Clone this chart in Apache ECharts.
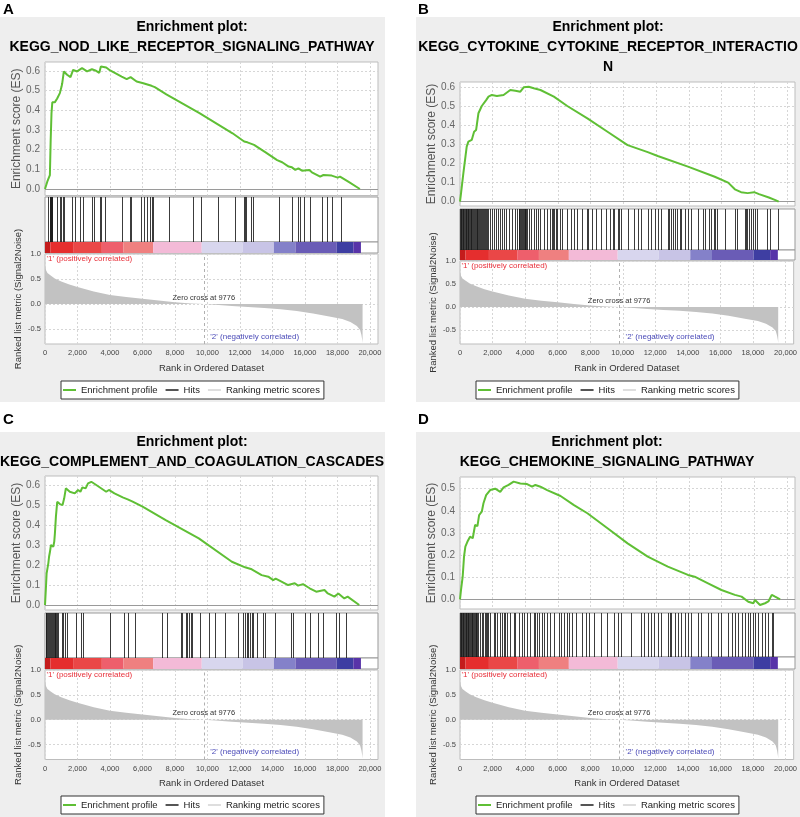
<!DOCTYPE html>
<html><head><meta charset="utf-8">
<script src="https://cdn.jsdelivr.net/npm/echarts@6/dist/echarts.min.js"></script>
<style>html,body{margin:0;padding:0;background:#fff}#c{width:800px;height:817px}</style>
</head><body><div id="c"></div>
<script>
// ---------------- DATA ----------------
const xTicks = [0,2000,4000,6000,8000,10000,12000,14000,16000,18000,20000];
const rankedTicks = [-0.5,0,0.5,1.0];
const esTicksA = [0,0.1,0.2,0.3,0.4,0.5,0.6];
const esTicksB = [0,0.1,0.2,0.3,0.4,0.5,0.6];
const esTicksC = [0,0.1,0.2,0.3,0.4,0.5,0.6];
const esTicksD = [0,0.1,0.2,0.3,0.4,0.5];
const zeroCross = 9776;

const titleA = 'Enrichment plot:\nKEGG_NOD_LIKE_RECEPTOR_SIGNALING_PATHWAY';
const titleB = 'Enrichment plot:\nKEGG_CYTOKINE_CYTOKINE_RECEPTOR_INTERACTIO\nN';
const titleC = 'Enrichment plot:\nKEGG_COMPLEMENT_AND_COAGULATION_CASCADES';
const titleD = 'Enrichment plot:\nKEGG_CHEMOKINE_SIGNALING_PATHWAY';
const legendNames = ['Enrichment profile','Hits','Ranking metric scores'];

// ranked list metric (same ranked dataset for all four panels)
const rankedMetric = [[0,0.76],[60,0.68],[150,0.62],[350,0.57],[600,0.51],[1000,0.45],[1500,0.39],[2000,0.34],[3000,0.25],[4000,0.18],[5000,0.14],[6000,0.105],[7000,0.07],[8000,0.035],[9000,0.012],[9776,0],[10500,-0.015],[11500,-0.04],[12500,-0.06],[13500,-0.08],[14500,-0.105],[15500,-0.14],[16500,-0.19],[17500,-0.25],[18300,-0.3],[18800,-0.36],[19200,-0.44],[19400,-0.52],[19480,-0.62],[19530,-0.72],[19550,-0.78]];

// colour bar: rank breaks
const colorBarBreaks = [0,340,1770,3500,4830,6660,9650,12160,14090,15420,17960,18980,19450];

const esA = [[0,0],[80,0],[140,0.037],[220,0.03],[300,0.07],[350,0.25],[400,0.385],[450,0.44],[600,0.44],[710,0.435],[750,0.46],[850,0.45],[915,0.487],[1020,0.52],[1060,0.537],[1160,0.597],[1360,0.58],[1570,0.568],[1730,0.605],[1975,0.597],[2280,0.614],[2590,0.597],[2890,0.608],[3100,0.602],[3340,0.59],[3440,0.622],[3770,0.617],[4010,0.602],[4720,0.571],[5030,0.558],[5270,0.568],[5640,0.546],[6050,0.537],[6560,0.524],[6760,0.517],[7470,0.481],[9510,0.385],[11545,0.283],[12260,0.241],[12460,0.237],[12870,0.224],[13580,0.186],[14290,0.147],[14600,0.136],[15000,0.114],[15200,0.11],[15410,0.097],[15600,0.105],[15820,0.093],[16270,0.097],[16430,0.085],[16940,0.063],[17140,0.071],[17650,0.068],[18020,0.058],[18160,0.063],[18670,0.037],[19385,0]];
const esB = [[0,0],[62,0.044],[205,0.149],[410,0.289],[513,0.315],[718,0.324],[862,0.367],[985,0.376],[1128,0.464],[1333,0.502],[1600,0.533],[1744,0.551],[1949,0.56],[2256,0.555],[2667,0.56],[3077,0.586],[3385,0.582],[3692,0.577],[3897,0.6],[4205,0.603],[4513,0.595],[4923,0.586],[5744,0.551],[6564,0.502],[7795,0.437],[9026,0.367],[10256,0.297],[11487,0.26],[12100,0.24],[13950,0.184],[15590,0.131],[16410,0.1],[16820,0.065],[17200,0.05],[17600,0.045],[18000,0.05],[18300,0.04],[18900,0.022],[19300,0.008],[19500,0]];
const esC = [[0,0],[50,0.075],[100,0.159],[204,0.209],[250,0.242],[305,0.267],[367,0.301],[509,0.292],[570,0.318],[610,0.359],[672,0.443],[753,0.518],[916,0.506],[1079,0.501],[1181,0.535],[1283,0.585],[1527,0.568],[1833,0.56],[2036,0.577],[2180,0.568],[2301,0.59],[2500,0.585],[2647,0.61],[2851,0.618],[3156,0.602],[3767,0.568],[3930,0.577],[4276,0.56],[4785,0.54],[5091,0.53],[5396,0.518],[6007,0.493],[7432,0.426],[9468,0.334],[11504,0.217],[12319,0.189],[12726,0.179],[13337,0.15],[13744,0.142],[14050,0.125],[14200,0.132],[14559,0.117],[14966,0.1],[15374,0.109],[15577,0.097],[15883,0.105],[16290,0.084],[16697,0.067],[17205,0.075],[17409,0.058],[17816,0.042],[18060,0.058],[18427,0.033],[18630,0.042],[19343,0]];
const esD = [[0,0],[62,0.042],[164,0.102],[246,0.193],[328,0.238],[451,0.26],[615,0.283],[780,0.276],[923,0.336],[1067,0.331],[1169,0.381],[1333,0.396],[1436,0.434],[1600,0.471],[1846,0.494],[2154,0.5],[2462,0.486],[2667,0.506],[2974,0.517],[3282,0.532],[3692,0.524],[4103,0.521],[4410,0.509],[4615,0.517],[4923,0.509],[5333,0.494],[6154,0.467],[6974,0.426],[7795,0.389],[9026,0.321],[10256,0.253],[11487,0.193],[12718,0.148],[13949,0.11],[14359,0.102],[15179,0.072],[15999,0.042],[16820,0.02],[17231,0.012],[17641,-0.011],[17949,-0.018],[18051,-0.003],[18359,-0.026],[18667,-0.018],[18872,-0.01],[19077,0.02],[19282,0.012],[19590,0]];

const hitsA = [183,305,330,360,390,420,452,757,916,1002,1100,1200,1674,1833,2138,2321,2895,2993,3402,3464,3665,4728,5235,5296,5889,6090,6255,6457,6561,6659,7616,9102,9615,10629,11700,12258,12319,12401,12706,12808,14396,15211,15577,15679,15964,16330,17043,17348,17653,18223];
const hitsB = [20,60,90,130,170,210,250,300,340,380,430,470,520,560,610,660,700,750,800,850,900,960,1010,1060,1120,1180,1230,1290,1350,1400,1460,1520,1580,1640,1700,1846,1949,2092,2215,2297,2421,2564,2708,2831,2974,3179,3385,3487,3590,3640,3700,3750,3800,3850,3900,3950,4000,4050,4100,4205,4349,4513,4677,4779,4923,5128,5333,5477,5641,5700,5750,5846,5949,6113,6256,6564,6769,6974,7179,7487,7754,7836,8103,8308,8615,8923,9190,9333,9436,9641,9744,9846,10256,10667,10913,11077,11487,11692,11938,12103,12308,12718,12800,12900,13026,13128,13292,13436,13538,13744,13949,14154,14564,14874,15015,15218,15385,15526,15631,15735,16203,16818,16923,17434,17480,17538,17680,17803,17951,18049,18154,18769,18972,19446];
const hitsC = [40,90,140,190,240,300,350,420,480,540,600,640,700,760,815,1018,1120,1220,1324,1934,2240,2342,3971,4887,5091,5559,7228,7533,8348,8410,8654,8760,8860,8960,9061,9570,10080,10487,11097,11911,12217,12319,12421,12523,12625,12726,12828,13032,13439,13541,14152,15170,15272,15984,16290,16798,17104,17918,18121,18528];
const hitsD = [10,50,90,130,170,210,260,300,350,390,430,480,520,570,620,660,710,760,800,850,900,950,1000,1060,1110,1231,1333,1436,1538,1600,1650,1744,1846,2051,2154,2256,2462,2564,2667,2769,2872,3077,3282,3385,3590,3795,3897,4103,4308,4513,4615,4718,4821,5026,5128,5333,5538,5744,6051,6154,6359,6564,6667,6872,7077,7487,7692,7897,8205,8615,9026,9436,9641,9846,10462,11077,11282,11487,11692,11897,12103,12308,12718,12821,12923,13128,13333,13538,13744,13949,14154,14564,14769,15179,15385,15795,16000,16410,16615,16821,17026,17231,17436,17641,17744,17949,18051,18256,18462,18667,18872,19077,19179];

// ---------------- STYLE / LAYOUT ----------------
const BAR_COLORS = ['#c41c1c','#e52e2e','#ea4747','#ee5f6c','#ef8080','#f3bad7','#d8d6ee','#c8c4e6','#8481c9','#6a5cb6','#3e3ea2','#5834a8'];
const FONT = '"Liberation Sans", Arial, sans-serif';
const XMAX = 20500;
const ES_COLOR = '#5fbf35';
const HIT_COLOR = '#1a1a1a';
const GRIDLINE = {show:true, lineStyle:{color:'#d6d6d6', type:[2,2], width:1}};

const panels = [
  {letter:'A', title:titleA, es:esA, esTicks:esTicksA, hits:hitsA, bg:[0,17,385,385], lp:[3,2], cx:192, tTop:17,
   x0:45, x1:378, esY:[62,195.5], esR:[-0.033,0.645], hY:[197,242], bY:[242,253], rY:[254,344], lg:[61,381]},
  {letter:'B', title:titleB, es:esB, esTicks:esTicksB, hits:hitsB, bg:[416,17,384,385], lp:[418,2], cx:608, tTop:17,
   x0:460, x1:795, esY:[82,206], esR:[-0.0225,0.628], hY:[209,250], bY:[250,260], rY:[261,344], lg:[476,381]},
  {letter:'C', title:titleC, es:esC, esTicks:esTicksC, hits:hitsC, bg:[0,432,385,385], lp:[3,412], cx:192, tTop:432,
   x0:45, x1:378, esY:[476,610], esR:[-0.025,0.647], hY:[613,658], bY:[658,669], rY:[670,759.5], lg:[61,796]},
  {letter:'D', title:titleD, es:esD, esTicks:esTicksD, hits:hitsD, bg:[416,432,384,385], lp:[418,412], cx:607, tTop:432,
   x0:460, x1:795, esY:[477,609], esR:[-0.044,0.553], hY:[613,657], bY:[657,669], rY:[670,759.5], lg:[476,796]}
];

const grid = [], xAxis = [], yAxis = [], series = [], legend = [], graphic = [];
const barSegments = colorBarBreaks.slice(0,-1).map((s,i)=>[s, colorBarBreaks[i+1], i]);

function hitsRender(params, api){
  const cs = params.coordSys;
  const x = Math.round(api.coord([api.value(0), 0.5])[0]) + 0.5;
  return {type:'line', shape:{x1:x, y1:cs.y, x2:x, y2:cs.y+cs.height}, style:{stroke:HIT_COLOR, lineWidth:1, opacity:0.85}};
}
function barRender(params, api){
  const p0 = api.coord([api.value(0), 1]);
  const p1 = api.coord([api.value(1), 0]);
  return {type:'rect', shape:{x:p0[0], y:p0[1], width:p1[0]-p0[0], height:p1[1]-p0[1]}, style:{fill:BAR_COLORS[api.value(2)]}};
}

panels.forEach((p, k) => {
  const w = p.x1 - p.x0;
  graphic.push({type:'rect', z:-10, shape:{x:p.bg[0], y:p.bg[1], width:p.bg[2], height:p.bg[3]}, style:{fill:'#eeeeee'}, silent:true});
  graphic.push({type:'text', x:p.lp[0], y:p.lp[1], style:{text:p.letter, font:'bold 15px '+FONT, fill:'#000', verticalAlign:'top'}});
  graphic.push({type:'text', x:p.cx, y:p.tTop, style:{text:p.title, font:'bold 14px '+FONT, lineHeight:20, fill:'#000', align:'center', verticalAlign:'top'}});

  const mk = (y) => ({left:p.x0, width:w, top:y[0], height:y[1]-y[0], show:true, backgroundColor:'#fff', borderColor:'#bdbdbd', borderWidth:1});
  grid.push(mk(p.esY), mk(p.hY), mk(p.bY), mk(p.rY));
  grid[4*k+1].borderColor = '#999';
  grid[4*k+2].borderColor = '#999';

  const xBase = {type:'value', min:0, max:XMAX, axisLine:{show:false}};
  xAxis.push(Object.assign({}, xBase, {gridIndex:4*k, axisLabel:{show:false}, axisTick:{show:false, customValues:xTicks}, splitLine:GRIDLINE}));
  xAxis.push(Object.assign({}, xBase, {gridIndex:4*k+1, axisLabel:{show:false}, axisTick:{show:false}, splitLine:{show:false}}));
  xAxis.push(Object.assign({}, xBase, {gridIndex:4*k+2, axisLabel:{show:false}, axisTick:{show:false}, splitLine:{show:false}}));
  xAxis.push(Object.assign({}, xBase, {gridIndex:4*k+3,
    axisLabel:{customValues:xTicks, fontSize:7.5, color:'#444', margin:5, fontFamily:FONT},
    axisTick:{show:false, customValues:xTicks}, splitLine:GRIDLINE,
    name:'Rank in Ordered Dataset', nameLocation:'middle', nameGap:19,
    nameTextStyle:{fontSize:9.5, color:'#333', fontFamily:FONT}}));

  yAxis.push({type:'value', gridIndex:4*k, min:p.esR[0], max:p.esR[1], axisLine:{show:false},
    axisTick:{show:false, customValues:p.esTicks},
    axisLabel:{customValues:p.esTicks, formatter:v=>v.toFixed(1), fontSize:10, color:'#666', margin:5, fontFamily:FONT},
    splitLine:GRIDLINE, name:'Enrichment score (ES)', nameLocation:'middle', nameGap:22,
    nameTextStyle:{fontSize:12, color:'#555', fontFamily:FONT}});
  yAxis.push({type:'value', gridIndex:4*k+1, min:0, max:1, show:false});
  yAxis.push({type:'value', gridIndex:4*k+2, min:0, max:1, show:false});
  yAxis.push({type:'value', gridIndex:4*k+3, min:-0.8, max:1.0, axisLine:{show:false},
    axisTick:{show:false, customValues:rankedTicks},
    axisLabel:{customValues:rankedTicks, formatter:v=>v.toFixed(1), fontSize:7.5, color:'#444', margin:4, fontFamily:FONT},
    splitLine:GRIDLINE, name:'Ranked list metric (Signal2Noise)', nameLocation:'middle', nameGap:22,
    nameTextStyle:{fontSize:9.5, color:'#333', fontFamily:FONT}});

  series.push({type:'line', name:legendNames[0], xAxisIndex:4*k, yAxisIndex:4*k, data:p.es, showSymbol:false,
    color:ES_COLOR, lineStyle:{width:2, color:ES_COLOR}, z:5,
    markLine:{silent:true, symbol:'none', label:{show:false}, lineStyle:{type:'solid', color:'#9a9a9a', width:1}, data:[{yAxis:0}]}});
  series.push({type:'custom', name:legendNames[1], xAxisIndex:4*k+1, yAxisIndex:4*k+1,
    data:p.hits.map(v=>[v,0.5]), encode:{x:0, y:1}, renderItem:hitsRender, itemStyle:{color:'#555'}});
  series.push({type:'custom', name:'colorbar', xAxisIndex:4*k+2, yAxisIndex:4*k+2,
    data:barSegments, encode:{x:[0,1]}, renderItem:barRender});
  series.push({type:'line', name:legendNames[2], xAxisIndex:4*k+3, yAxisIndex:4*k+3, data:rankedMetric, showSymbol:false,
    itemStyle:{color:'#dedede'}, lineStyle:{width:0}, areaStyle:{color:'#c2c2c2', opacity:1},
    markLine:{silent:true, symbol:'none', label:{show:false}, lineStyle:{type:[3,3], color:'#b0b0b0', width:1}, data:[{xAxis:zeroCross}]},
    markPoint:{silent:true, symbol:'circle', symbolSize:1, itemStyle:{color:'rgba(0,0,0,0)'}, data:[
      {coord:[zeroCross,0], label:{show:true, formatter:'Zero cross at '+zeroCross, position:'top', distance:2, fontSize:7.5, color:'#333', fontFamily:FONT}},
      {coord:[0,1.0], label:{show:true, formatter:"'1' (positively correlated)", position:[2,1], align:'left', verticalAlign:'top', fontSize:8, color:'#e8303a', fontFamily:FONT}},
      {coord:[zeroCross,-0.8], label:{show:true, formatter:"'2' (negatively correlated)", position:[7,-11], align:'left', verticalAlign:'top', fontSize:8, color:'#4b4bb8', fontFamily:FONT}}
    ]}});

  legend.push({left:p.lg[0], top:p.lg[1], orient:'horizontal', data:legendNames, icon:'rect', itemWidth:13, itemHeight:2,
    itemGap:8, padding:[4,4,4,2], borderColor:'#333', borderWidth:1, backgroundColor:'#fff', selectedMode:false,
    textStyle:{fontSize:9.5, color:'#222', fontFamily:FONT}});
});

const chart = echarts.init(document.getElementById('c'), null, {renderer:'canvas'});
chart.setOption({animation:false, backgroundColor:'#fff', textStyle:{fontFamily:FONT},
  grid, xAxis, yAxis, series, legend, graphic});
</script></body></html>
